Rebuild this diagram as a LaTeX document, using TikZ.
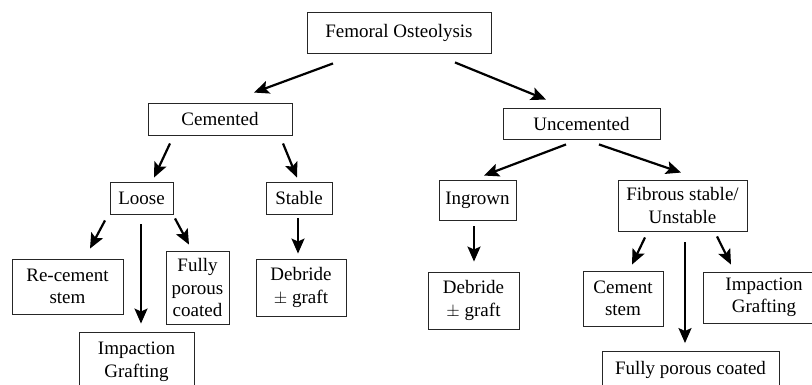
\documentclass[tikz,border=0pt]{standalone}
\usepackage{fontspec}
\setmainfont{Liberation Serif}
\usetikzlibrary{arrows.meta}
\begin{document}
\begin{tikzpicture}[x=1pt,y=-1pt,
  box/.style={draw=black!85,line width=0.9pt,rectangle,inner sep=0pt,align=center,
    font=\fontsize{19}{22.5}\selectfont},
  arr/.style={line width=2.2pt,-{Stealth[length=15pt,width=13pt,inset=3pt]}}]
\useasboundingbox (0,0) rectangle (812,384);
\clip (0,0) rectangle (812,384);
\node[box,minimum width=184pt,minimum height=41pt] (fo) at (399,32.5) {Femoral Osteolysis};
\node[box,minimum width=144pt,minimum height=32pt] (cem) at (220,119) {Cemented};
\node[box,minimum width=157pt,minimum height=31pt] (unc) at (581.5,123.5) {Uncemented};
\node[box,minimum width=63pt,minimum height=32pt] (loose) at (141.5,198) {Loose};
\node[box,minimum width=66pt,minimum height=32pt] (stable) at (299,198) {Stable};
\node[box,minimum width=77pt,minimum height=40pt] (ingrown) at (477.5,200) {Ingrown};
\node[box,minimum width=129pt,minimum height=51pt] (fib) at (682.5,205.5) {Fibrous stable/\\Unstable};
\node[box,minimum width=111pt,minimum height=55pt] (recem) at (67.5,286.5) {Re-cement\\stem};
\node[box,minimum width=63pt,minimum height=73pt] (fpc1) at (197.5,287.5) {Fully\\porous\\coated};
\node[box,minimum width=90pt,minimum height=57pt] (deb1) at (301,287.5) {Debride\\$\pm$ graft};
\node[box,minimum width=115pt,minimum height=60pt] (imp1) at (136.5,362) {Impaction\\Grafting};
\node[box,minimum width=91pt,minimum height=57pt] (deb2) at (473.5,300.5) {Debride\\$\pm$ graft};
\node[box,minimum width=80pt,minimum height=55pt] (cems) at (623,298.5) {Cement\\stem};
\node[box,minimum width=122pt,minimum height=51pt] (imp2) at (764,297.5) {Impaction\\Grafting};
\node[box,minimum width=177pt,minimum height=36pt] (fpc2) at (690.5,369.5) {Fully porous coated};
\draw[arr] ([xshift=-66pt,yshift=-10pt]fo.south) -- ([xshift=34pt,yshift=10pt]cem.north);
\draw[arr] ([xshift=56pt,yshift=-9pt]fo.south) -- ([xshift=-35.5pt,yshift=8pt]unc.north);
\draw[arr] ([xshift=-50pt,yshift=-8pt]cem.south) -- ([xshift=12.5pt,yshift=4pt]loose.north);
\draw[arr] ([xshift=63pt,yshift=-8pt]cem.south) -- ([xshift=-2pt,yshift=4pt]stable.north);
\draw[arr] ([xshift=-15.5pt,yshift=-5pt]unc.south) -- ([xshift=6.5pt,yshift=4pt]ingrown.north);
\draw[arr] ([xshift=17.5pt,yshift=-5pt]unc.south) -- ([xshift=-1.5pt,yshift=7pt]fib.north);
\draw[arr] ([xshift=-36.5pt,yshift=-6pt]loose.south) -- ([xshift=22.5pt,yshift=10pt]recem.north);
\draw[arr] ([xshift=-0.5pt,yshift=-10pt]loose.south) -- ([xshift=4.5pt,yshift=8pt]imp1.north);
\draw[arr] ([xshift=33.5pt,yshift=-4pt]loose.south) -- ([xshift=-8.5pt,yshift=6pt]fpc1.north);
\draw[arr] ([xshift=-1pt,yshift=-4pt]stable.south) -- ([xshift=-3pt,yshift=5pt]deb1.north);
\draw[arr] ([xshift=-3.5pt,yshift=-6pt]ingrown.south) -- ([xshift=0.5pt,yshift=10pt]deb2.north);
\draw[arr] ([xshift=-37.5pt,yshift=-6pt]fib.south) -- ([xshift=9pt,yshift=6pt]cems.north);
\draw[arr] ([xshift=2.5pt,yshift=-11pt]fib.south) -- ([xshift=-5.5pt,yshift=8pt]fpc2.north);
\draw[arr] ([xshift=34.5pt,yshift=-5pt]fib.south) -- ([xshift=-33pt,yshift=7pt]imp2.north);
\end{tikzpicture}
\end{document}
